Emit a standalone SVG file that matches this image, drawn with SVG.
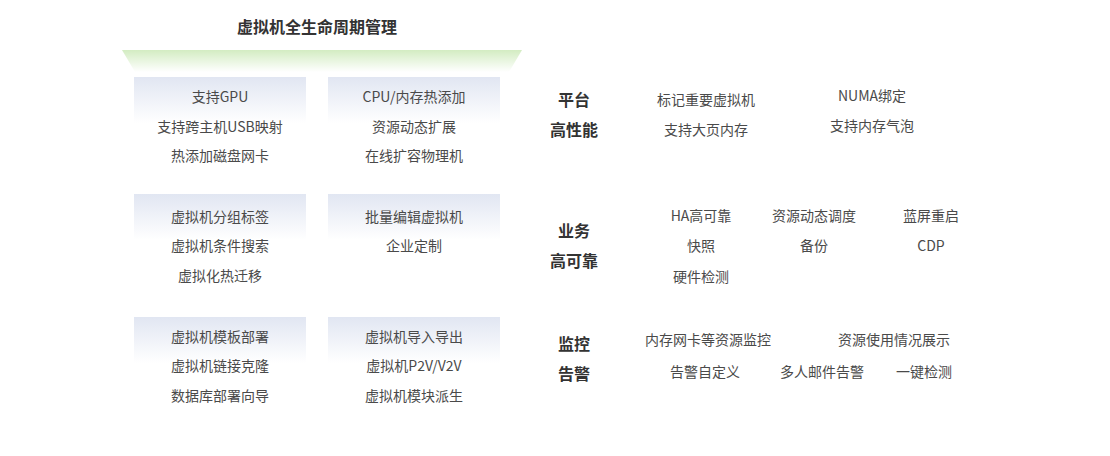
<svg xmlns="http://www.w3.org/2000/svg" width="1110" height="456" viewBox="0 0 1110 456">
<defs>
<linearGradient id="gTrap" x1="0" y1="0" x2="0" y2="1">
<stop offset="0" stop-color="#d3ecc2"/>
<stop offset="1" stop-color="#ffffff"/>
</linearGradient>
<linearGradient id="gBox" x1="0" y1="0" x2="0" y2="1">
<stop offset="0" stop-color="#e1e6f2"/>
<stop offset="1" stop-color="#ffffff"/>
</linearGradient>
<style>
text{font-family:"Noto Sans CJK SC","Liberation Sans",sans-serif;text-anchor:middle;dominant-baseline:central;}
.t{font-size:14px;fill:#4a4a4a;}
.h{font-size:16px;font-weight:bold;fill:#333;}
.title{font-size:16px;font-weight:bold;fill:#333;}
.box{fill:url(#gBox);}
</style>
</defs>
<rect width="1110" height="456" fill="#fff"/>
<g id="header">
<text class="title" x="317" y="26">虚拟机全生命周期管理</text>
<polygon points="122,50 522,50 509,72 135,72" fill="url(#gTrap)"/>
</g>
<g id="box-r1c1">
<rect class="box" x="134" y="77" width="172" height="46"/>
<text class="t" x="220" y="96">支持GPU</text>
<text class="t" x="220" y="125.5">支持跨主机USB映射</text>
<text class="t" x="220" y="155">热添加磁盘网卡</text>
</g>
<g id="box-r1c2">
<rect class="box" x="328" y="77" width="172" height="46"/>
<text class="t" x="414" y="96">CPU/内存热添加</text>
<text class="t" x="414" y="125.5">资源动态扩展</text>
<text class="t" x="414" y="155">在线扩容物理机</text>
</g>
<g id="box-r2c1">
<rect class="box" x="134" y="194" width="172" height="46"/>
<text class="t" x="220" y="215.5">虚拟机分组标签</text>
<text class="t" x="220" y="245">虚拟机条件搜索</text>
<text class="t" x="220" y="275">虚拟化热迁移</text>
</g>
<g id="box-r2c2">
<rect class="box" x="328" y="194" width="172" height="46"/>
<text class="t" x="414" y="215.5">批量编辑虚拟机</text>
<text class="t" x="414" y="245">企业定制</text>
</g>
<g id="box-r3c1">
<rect class="box" x="134" y="317" width="172" height="46"/>
<text class="t" x="220" y="336">虚拟机模板部署</text>
<text class="t" x="220" y="365">虚拟机链接克隆</text>
<text class="t" x="220" y="395">数据库部署向导</text>
</g>
<g id="box-r3c2">
<rect class="box" x="328" y="317" width="172" height="46"/>
<text class="t" x="414" y="336">虚拟机导入导出</text>
<text class="t" x="414" y="365">虚拟机P2V/V2V</text>
<text class="t" x="414" y="395">虚拟机模块派生</text>
</g>
<g id="perf">
<text class="h" x="574" y="99">平台</text>
<text class="h" x="574" y="129">高性能</text>
<text class="t" x="706" y="99">标记重要虚拟机</text>
<text class="t" x="706" y="129">支持大页内存</text>
<text class="t" x="872" y="95">NUMA绑定</text>
<text class="t" x="872" y="125">支持内存气泡</text>
</g>
<g id="ha">
<text class="h" x="574" y="230">业务</text>
<text class="h" x="574" y="260">高可靠</text>
<text class="t" x="701" y="215">HA高可靠</text>
<text class="t" x="814" y="215">资源动态调度</text>
<text class="t" x="931" y="215">蓝屏重启</text>
<text class="t" x="701" y="245">快照</text>
<text class="t" x="814" y="245">备份</text>
<text class="t" x="931" y="245">CDP</text>
<text class="t" x="701" y="276">硬件检测</text>
</g>
<g id="monitor">
<text class="h" x="574" y="343">监控</text>
<text class="h" x="574" y="373">告警</text>
<text class="t" x="708" y="339">内存网卡等资源监控</text>
<text class="t" x="894" y="339">资源使用情况展示</text>
<text class="t" x="705" y="371">告警自定义</text>
<text class="t" x="822" y="371">多人邮件告警</text>
<text class="t" x="924" y="371">一键检测</text>
</g>
</svg>
